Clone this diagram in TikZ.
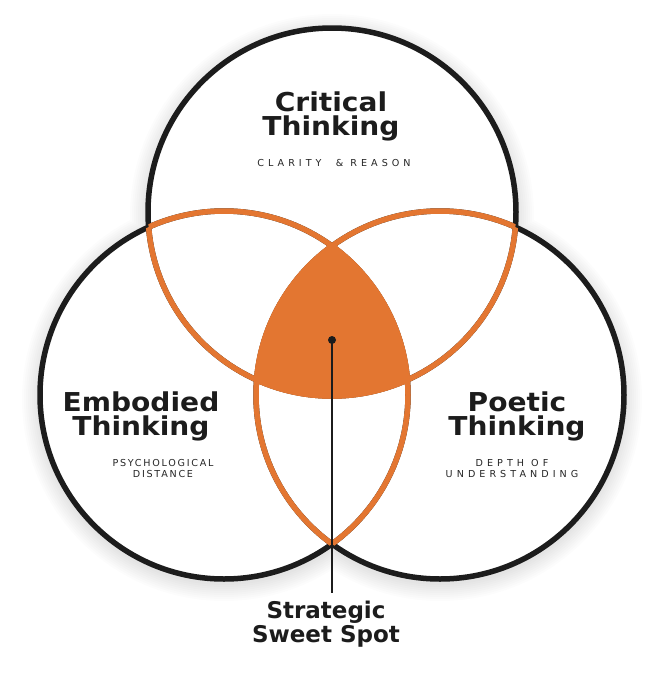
\documentclass[tikz,border=0pt]{standalone}
\usepackage{fontspec}
\setmainfont{DejaVu Sans}
\newfontfamily\headfont{DejaVu Sans}[FakeStretch=1.08]
\newfontfamily\subfont{DejaVu Sans}[LetterSpace=42]
\newfontfamily\subfontnarrow{DejaVu Sans}[LetterSpace=18]
\definecolor{ink}{HTML}{1C1C1C}
\definecolor{sweet}{HTML}{E37631}
\definecolor{subgray}{HTML}{262626}
\tikzset{
  headtext/.style={anchor=base, align=center, text=ink, font=\headfont\bfseries\fontsize{26}{23.5}\selectfont},
  subtext/.style={anchor=base, align=center, text=subgray, font=\subfont\fontsize{9.6}{11}\selectfont},
  blackring/.style={draw=ink, line width=5.5pt},
  orangering/.style={draw=sweet, line width=5.5pt},
}
\begin{document}
\begin{tikzpicture}[x=1pt,y=-1pt]
\useasboundingbox (0,0) rectangle (669,686);
\fill[white] (0,0) rectangle (669,686);
\coordinate (T) at (332,212);
\coordinate (L) at (224,395);
\coordinate (R) at (440,395);
\def\rr{184pt}
% soft shadow
\foreach \k in {2,4,...,18}{
  \fill[black, opacity=0.011] ([yshift=-4pt]T) circle[radius=\rr+\k pt]
    ([yshift=-4pt]L) circle[radius=\rr+\k pt]
    ([yshift=-4pt]R) circle[radius=\rr+\k pt];
}
% white discs
\fill[white] (T) circle[radius=\rr] (L) circle[radius=\rr] (R) circle[radius=\rr];
% black rings
\draw[blackring] (T) circle[radius=\rr];
\draw[blackring] (L) circle[radius=\rr];
\draw[blackring] (R) circle[radius=\rr];
% sweet spot fill
\begin{scope}
  \clip (L) circle[radius=\rr];
  \clip (R) circle[radius=\rr];
  \fill[sweet] (T) circle[radius=\rr];
\end{scope}
% orange inner arcs
\begin{scope}\clip (L) circle[radius=\rr]; \draw[orangering] (T) circle[radius=\rr]; \end{scope}
\begin{scope}\clip (R) circle[radius=\rr]; \draw[orangering] (T) circle[radius=\rr]; \end{scope}
\begin{scope}\clip (T) circle[radius=\rr]; \draw[orangering] (L) circle[radius=\rr]; \end{scope}
\begin{scope}\clip (R) circle[radius=\rr]; \draw[orangering] (L) circle[radius=\rr]; \end{scope}
\begin{scope}\clip (T) circle[radius=\rr]; \draw[orangering] (R) circle[radius=\rr]; \end{scope}
\begin{scope}\clip (L) circle[radius=\rr]; \draw[orangering] (R) circle[radius=\rr]; \end{scope}
% texts (base anchor = baseline of last line)
\node[headtext] (crit) at (331,135) {Critical\\Thinking};
\node[subtext] (critsub) at (334,166) {CLARITY \ \& REASON};
\node[headtext] (emb) at (141,435) {Embodied\\Thinking};
\node[subtext, font=\subfontnarrow\fontsize{9.6}{11}\selectfont] (embsub) at (163,477) {PSYCHOLOGICAL\\DISTANCE};
\node[headtext] (poe) at (517,435) {Poetic\\Thinking};
\node[subtext] (poesub) at (512,477) {DEPTH OF\\UNDERSTANDING};
% pointer
\node[circle, fill=ink, inner sep=0pt, minimum size=8pt] (dot) at (332,340) {};
\coordinate (lineend) at (332,593);
\draw[ink, line width=1.5pt] (dot.center) -- (lineend);
\node[headtext, font=\bfseries\fontsize{23}{24}\selectfont] (sweetlbl) at (326,642) {Strategic\\Sweet Spot};
\end{tikzpicture}
\end{document}
